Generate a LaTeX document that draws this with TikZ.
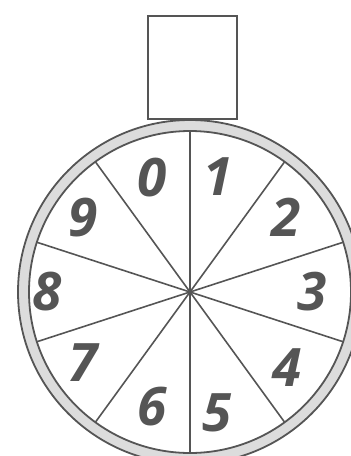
\documentclass[tikz,border=0pt]{standalone}
\usepackage{fontspec}
\setmainfont{Open Sans}
\definecolor{linegray}{HTML}{555555}
\definecolor{ringgray}{HTML}{DCDCDC}
\begin{document}
\begin{tikzpicture}[x=1pt,y=-1pt,
  rim/.style={draw=linegray,line width=1.8pt},
  spoke/.style={draw=linegray,line width=1.6pt},
  digit/.style={text=linegray,font=\fontsize{53}{53}\selectfont\bfseries\itshape,inner sep=0pt}]
\clip (0,0) rectangle (351,456);
\useasboundingbox (0,0) rectangle (351,456);
\coordinate (c) at (190,292);
% box
\node[draw=linegray,line width=1.5pt,minimum width=89pt,minimum height=103pt,inner sep=0pt] (box) at (192.5,67.5) {};
% ring
\fill[ringgray,even odd rule] (c) circle[radius=172] (c) circle[radius=161];
\draw[rim] (c) circle[radius=172];
\draw[rim] (c) circle[radius=161];
% spokes
\foreach \a in {90,54,18,-18,-54,-90,-126,-162,162,126}{
  \draw[spoke] (c) -- ++(\a:161);
}
% digits
\node[digit] (d0) at (152,178) {0};
\node[digit] (d1) at (218,177) {1};
\node[digit] (d2) at (286,217) {2};
\node[digit] (d3) at (312,292) {3};
\node[digit] (d4) at (287,368) {4};
\node[digit] (d5) at (217,413) {5};
\node[digit] (d6) at (152,407) {6};
\node[digit] (d7) at (83,363) {7};
\node[digit] (d8) at (47,292) {8};
\node[digit] (d9) at (83,218) {9};
\end{tikzpicture}
\end{document}
